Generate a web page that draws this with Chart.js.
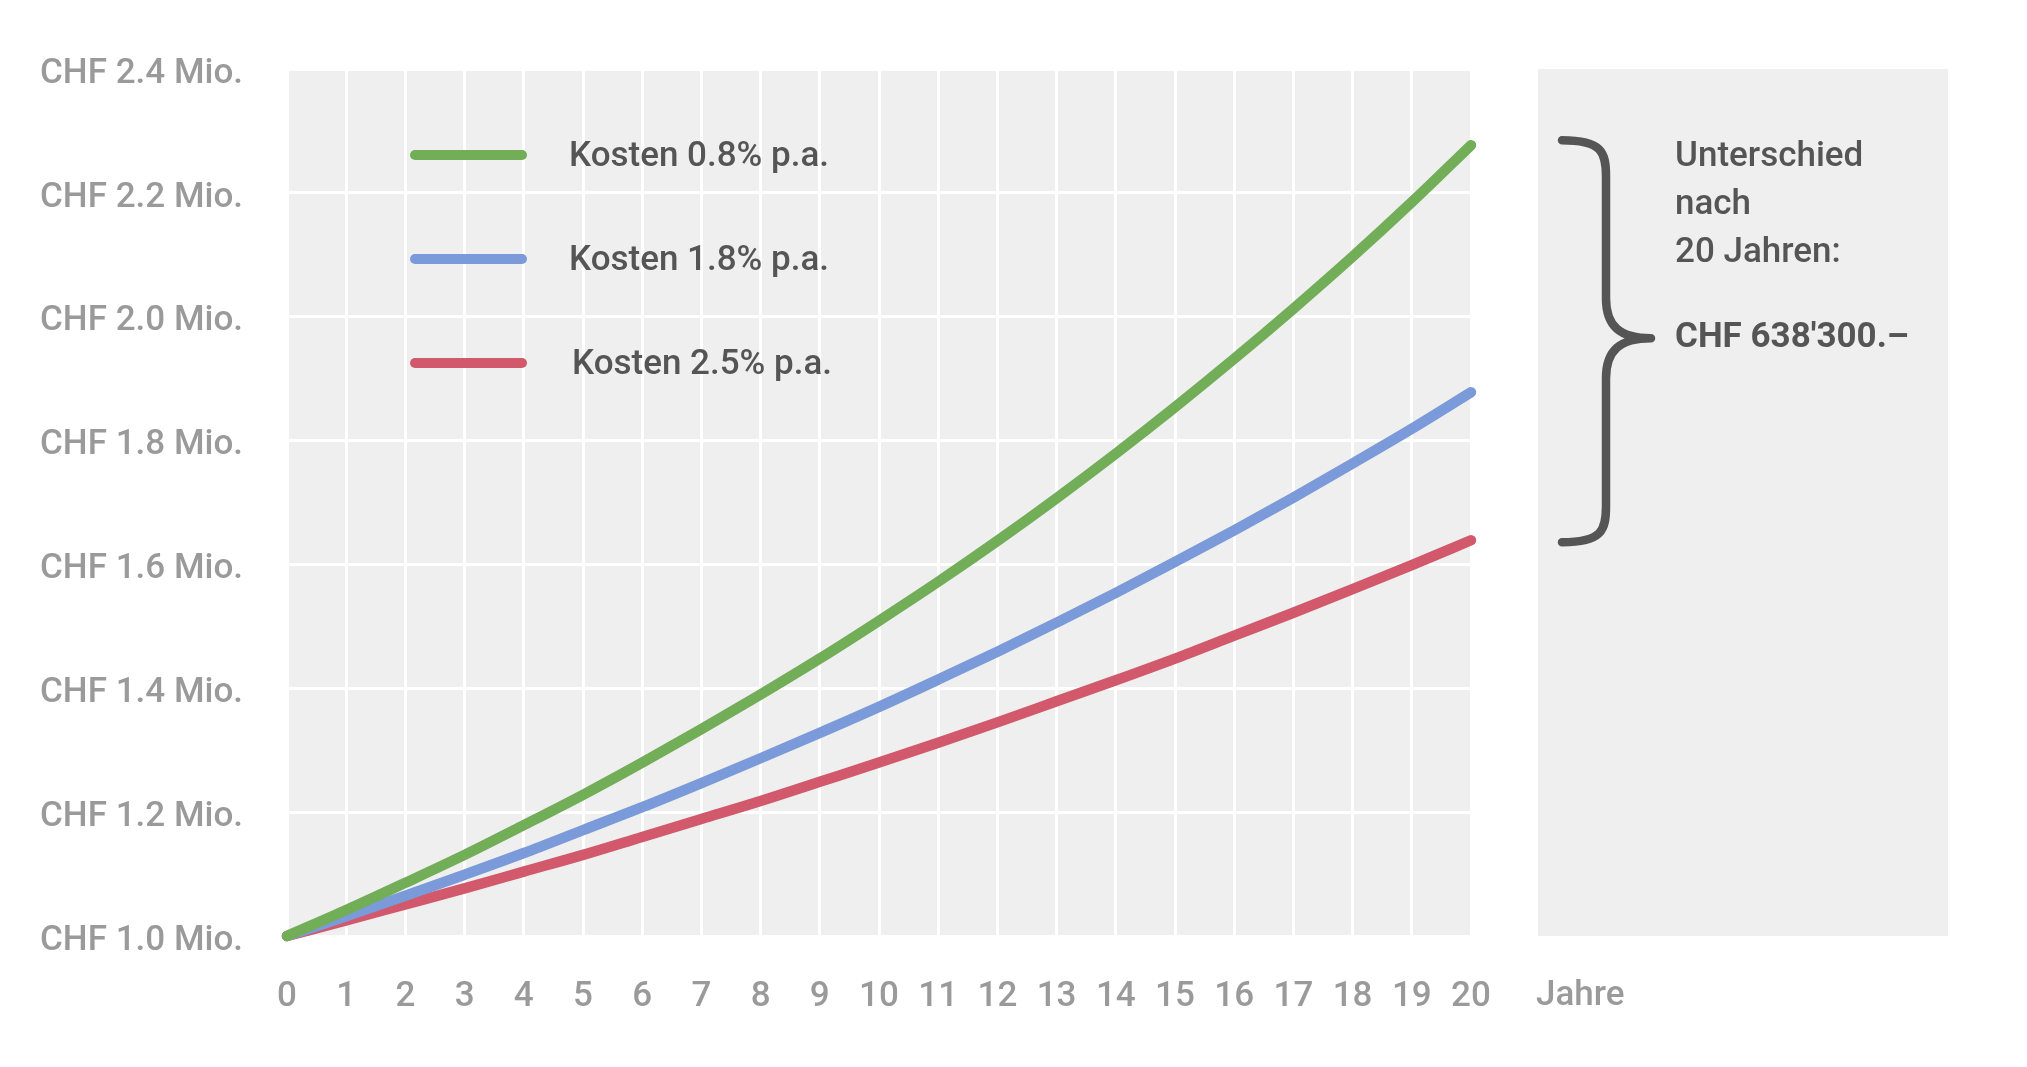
<!DOCTYPE html>
<html>
<head>
<meta charset="utf-8">
<script src="https://cdn.jsdelivr.net/npm/chart.js@4"></script>
<style>
  html, body { margin: 0; padding: 0; background: #fff; }
  #wrap { width: 2027px; height: 1067px; }
</style>
</head>
<body>
<div id="wrap"><canvas id="kostenChart" width="2027" height="1067"></canvas></div>
<script>
// years on the x axis
const years = ['0','1','2','3','4','5','6','7','8','9','10','11','12','13','14','15','16','17','18','19','20'];
// portfolio value in CHF Mio.
const kosten08 = [1.000,1.042,1.086,1.131,1.179,1.228,1.280,1.334,1.390,1.448,1.509,1.572,1.638,1.707,1.779,1.854,1.932,2.013,2.097,2.185,2.277];
const kosten18 = [1.000,1.032,1.065,1.099,1.134,1.171,1.208,1.247,1.287,1.328,1.370,1.414,1.459,1.506,1.554,1.604,1.655,1.708,1.763,1.819,1.878];
const kosten25 = [1.000,1.025,1.051,1.077,1.104,1.131,1.160,1.189,1.218,1.249,1.280,1.312,1.345,1.379,1.413,1.448,1.485,1.522,1.560,1.599,1.639];
const seriesNames = ['Kosten 0.8% p.a.', 'Kosten 1.8% p.a.', 'Kosten 2.5% p.a.'];
const seriesColors = ['#72ad57', '#7b9ad9', '#d1596b'];
const yTicks = [1.0, 1.2, 1.4, 1.6, 1.8, 2.0, 2.2, 2.4];
const xTitle = 'Jahre';
const diffText = ['Unterschied', 'nach', '20 Jahren:'];
const diffValue = "CHF 638'300.\u2013";

const FONT = 'Roboto, "Open Sans", sans-serif';

// grey panels, legend and the brace on the right
const decorations = {
    id: 'decorations',
    beforeDraw(chart) {
        const ctx = chart.ctx;
        const a = chart.chartArea;
        ctx.save();
        ctx.fillStyle = '#fff';
        ctx.fillRect(0, 0, chart.width, chart.height);
        ctx.fillStyle = '#efefef';
        ctx.fillRect(a.left, a.top, a.right - a.left, a.bottom - a.top);
        ctx.fillRect(a.right + 67, a.top, 410, a.bottom - a.top);
        ctx.restore();
    },
    afterDraw(chart) {
        const ctx = chart.ctx;
        const a = chart.chartArea;
        const y = chart.scales.y;
        ctx.save();

        // legend
        ctx.lineCap = 'round';
        ctx.lineWidth = 10;
        ctx.textBaseline = 'middle';
        ctx.font = '500 35px ' + FONT;
        chart.data.datasets.forEach((ds, i) => {
            const ly = a.top + 86 + i * 104;
            ctx.strokeStyle = ds.borderColor;
            ctx.beginPath();
            ctx.moveTo(a.left + 128, ly);
            ctx.lineTo(a.left + 235, ly);
            ctx.stroke();
            ctx.fillStyle = '#555';
            ctx.fillText(ds.label, a.left + 282 + (i === 2 ? 3 : 0), ly + 2);
        });

        // x axis title
        ctx.fillStyle = '#9a9a9a';
        ctx.font = '500 35px ' + FONT;
        ctx.fillText(xTitle, a.right + 65, a.bottom + 60);

        // brace from top line end to bottom line end
        const last = years.length - 1;
        const top = y.getPixelForValue(kosten08[last]) - 5;
        const bot = y.getPixelForValue(kosten25[last]) + 2;
        const mid = (top + bot) / 2 - 3;
        const x0 = a.right + 91, xv = a.right + 135, xm = a.right + 180;
        ctx.strokeStyle = '#555';
        ctx.lineWidth = 8.5;
        ctx.lineJoin = 'round';
        ctx.beginPath();
        ctx.moveTo(x0, top);
        ctx.bezierCurveTo(x0 + 40, top, xv, top + 12, xv, top + 36);
        ctx.lineTo(xv, mid - 40);
        ctx.bezierCurveTo(xv, mid - 12, xv + 14, mid, xm, mid);
        ctx.moveTo(xm, mid);
        ctx.bezierCurveTo(xv + 14, mid, xv, mid + 12, xv, mid + 40);
        ctx.lineTo(xv, bot - 36);
        ctx.bezierCurveTo(xv, bot - 12, x0 + 40, bot, x0, bot);
        ctx.stroke();

        // difference text
        ctx.fillStyle = '#555';
        ctx.font = '500 35px ' + FONT;
        diffText.forEach((t, i) => {
            ctx.fillText(t, a.right + 204, top + 17 + i * 48);
        });
        ctx.font = 'bold 35px ' + FONT;
        ctx.fillText(diffValue, a.right + 204, mid);
        ctx.restore();
    }
};

const data = {
    labels: years,
    datasets: [
        { label: seriesNames[0], data: kosten08, borderColor: seriesColors[0] },
        { label: seriesNames[1], data: kosten18, borderColor: seriesColors[1] },
        { label: seriesNames[2], data: kosten25, borderColor: seriesColors[2] }
    ].map(d => Object.assign(d, {
        borderWidth: 10.5,
        pointRadius: 0,
        cubicInterpolationMode: 'monotone',
        borderCapStyle: 'round',
        fill: false,
        clip: false
    }))
};

new Chart(document.getElementById('kostenChart'), {
    type: 'line',
    data: data,
    plugins: [decorations],
    options: {
        responsive: false,
        animation: false,
        events: [],
        layout: { padding: { top: 69, right: 556, bottom: 0, left: 0 } },
        plugins: { legend: { display: false }, tooltip: { enabled: false } },
        scales: {
            x: {
                grid: { color: '#fff', lineWidth: 3, drawTicks: false },
                border: { display: false },
                ticks: { color: '#9a9a9a', font: { family: FONT, size: 35, weight: '500' }, padding: 40, maxRotation: 0, autoSkip: false },
                afterFit(scale) { scale.height = 131; }
            },
            y: {
                min: 1.0,
                max: 2.4,
                afterBuildTicks(scale) { scale.ticks = yTicks.map(v => ({ value: v })); },
                grid: { color: '#fff', lineWidth: 3, drawTicks: false },
                border: { display: false },
                ticks: {
                    color: '#9a9a9a',
                    font: { family: FONT, size: 35, weight: '500', lineHeight: '10px' },
                    padding: 44,
                    // empty first line nudges the label a few px below its grid line
                    callback: v => ['', 'CHF ' + v.toFixed(1) + ' Mio.']
                },
                afterFit(scale) { scale.width = 287; }
            }
        }
    }
});
</script>
</body>
</html>
